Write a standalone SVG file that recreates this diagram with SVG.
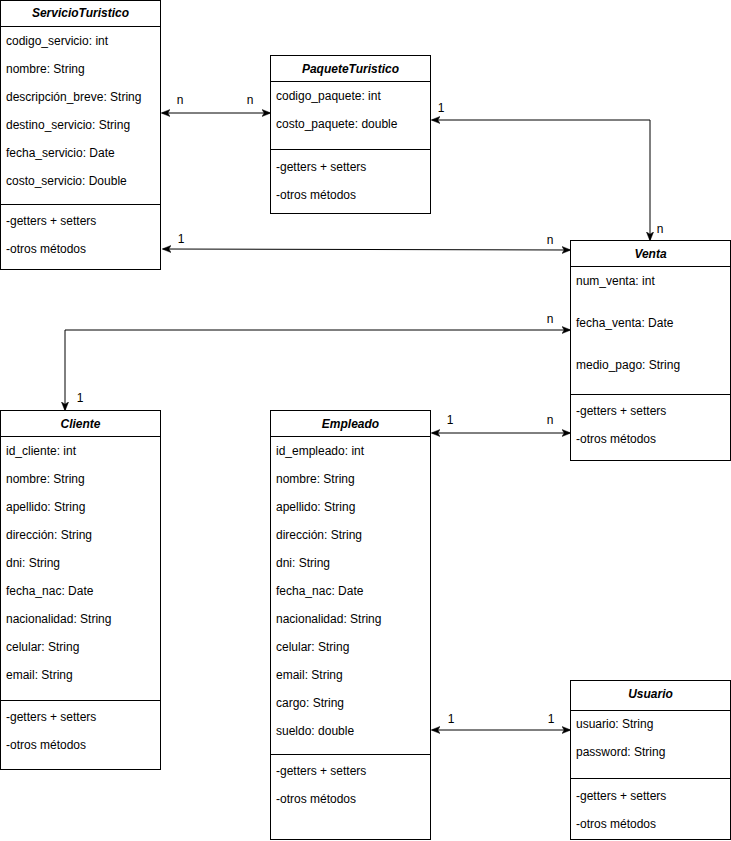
<svg xmlns="http://www.w3.org/2000/svg" width="731" height="841" viewBox="0 0 731 841">
<style>
.box{fill:#fff;stroke:#000;stroke-width:1}
.ln{stroke:#000;stroke-width:1;fill:none}
text{font-family:"Liberation Sans",Arial,Helvetica,sans-serif;font-size:12px;fill:#000;dominant-baseline:central}
.h{font-style:italic;font-weight:bold;text-anchor:middle}
.lbl{text-anchor:middle}
.c{stroke:#000;stroke-width:1;fill:none;marker-start:url(#arr);marker-end:url(#arr)}
</style>
<defs>
<marker id="arr" viewBox="0 0 10 10" refX="9" refY="5" markerWidth="9" markerHeight="9" orient="auto-start-reverse" markerUnits="userSpaceOnUse">
<path d="M0,1 L10,5 L0,9 L2.5,5 z" fill="#000" stroke="#000" stroke-width="0.5"/>
</marker>
</defs>
<rect x="0" y="0" width="731" height="841" fill="#fff"/>

<g id="connectors">
<path class="c" d="M162,113 H270"/>
<path class="c" d="M650,240 V120 H432"/>
<path class="c" d="M163,249 L570,250"/>
<path class="c" d="M570,330 H65 V410"/>
<path class="c" d="M432,433 H570"/>
<path class="c" d="M432,730 H570"/>
<text class="lbl" x="180" y="100">n</text>
<text class="lbl" x="250" y="100">n</text>
<text class="lbl" x="441" y="108">1</text>
<text class="lbl" x="660" y="229">n</text>
<text class="lbl" x="181" y="239">1</text>
<text class="lbl" x="550" y="240">n</text>
<text class="lbl" x="550" y="319">n</text>
<text class="lbl" x="80" y="398">1</text>
<text class="lbl" x="450" y="420">1</text>
<text class="lbl" x="550" y="420">n</text>
<text class="lbl" x="451" y="719">1</text>
<text class="lbl" x="551" y="719">1</text>
</g>

<g id="ServicioTuristico">
<rect class="box" x="0.5" y="0.5" width="160" height="269"/>
<line class="ln" x1="0.5" y1="26.5" x2="160.5" y2="26.5"/>
<line class="ln" x1="0.5" y1="204.5" x2="160.5" y2="204.5"/>
<text class="h" x="80.5" y="13">ServicioTuristico</text>
<text x="6" y="41">codigo_servicio: int</text>
<text x="6" y="69">nombre: String</text>
<text x="6" y="97">descripción_breve: String</text>
<text x="6" y="125">destino_servicio: String</text>
<text x="6" y="153">fecha_servicio: Date</text>
<text x="6" y="181">costo_servicio: Double</text>
<text x="6" y="221">-getters + setters</text>
<text x="6" y="249">-otros métodos</text>
</g>

<g id="PaqueteTuristico">
<rect class="box" x="270.5" y="55.5" width="160" height="158"/>
<line class="ln" x1="270.5" y1="81.5" x2="430.5" y2="81.5"/>
<line class="ln" x1="270.5" y1="149.5" x2="430.5" y2="149.5"/>
<text class="h" x="350.5" y="68.5">PaqueteTuristico</text>
<text x="276" y="96">codigo_paquete: int</text>
<text x="276" y="124">costo_paquete: double</text>
<text x="276" y="167">-getters + setters</text>
<text x="276" y="195">-otros métodos</text>
</g>

<g id="Venta">
<rect class="box" x="570.5" y="240.5" width="160" height="220"/>
<line class="ln" x1="570.5" y1="266.5" x2="730.5" y2="266.5"/>
<line class="ln" x1="570.5" y1="394.5" x2="730.5" y2="394.5"/>
<text class="h" x="650.5" y="253.5">Venta</text>
<text x="576" y="281">num_venta: int</text>
<text x="576" y="323">fecha_venta: Date</text>
<text x="576" y="365">medio_pago: String</text>
<text x="576" y="411">-getters + setters</text>
<text x="576" y="439">-otros métodos</text>
</g>

<g id="Cliente">
<rect class="box" x="0.5" y="410.5" width="160" height="359"/>
<line class="ln" x1="0.5" y1="436.5" x2="160.5" y2="436.5"/>
<line class="ln" x1="0.5" y1="700.5" x2="160.5" y2="700.5"/>
<text class="h" x="80.5" y="423.5">Cliente</text>
<text x="6" y="451">id_cliente: int</text>
<text x="6" y="479">nombre: String</text>
<text x="6" y="507">apellido: String</text>
<text x="6" y="535">dirección: String</text>
<text x="6" y="563">dni: String</text>
<text x="6" y="591">fecha_nac: Date</text>
<text x="6" y="619">nacionalidad: String</text>
<text x="6" y="647">celular: String</text>
<text x="6" y="675">email: String</text>
<text x="6" y="717">-getters + setters</text>
<text x="6" y="745">-otros métodos</text>
</g>

<g id="Empleado">
<rect class="box" x="270.5" y="410.5" width="160" height="429"/>
<line class="ln" x1="270.5" y1="436.5" x2="430.5" y2="436.5"/>
<line class="ln" x1="270.5" y1="754.5" x2="430.5" y2="754.5"/>
<text class="h" x="350.5" y="423.5">Empleado</text>
<text x="276" y="451">id_empleado: int</text>
<text x="276" y="479">nombre: String</text>
<text x="276" y="507">apellido: String</text>
<text x="276" y="535">dirección: String</text>
<text x="276" y="563">dni: String</text>
<text x="276" y="591">fecha_nac: Date</text>
<text x="276" y="619">nacionalidad: String</text>
<text x="276" y="647">celular: String</text>
<text x="276" y="675">email: String</text>
<text x="276" y="703">cargo: String</text>
<text x="276" y="731">sueldo: double</text>
<text x="276" y="771">-getters + setters</text>
<text x="276" y="799">-otros métodos</text>
</g>

<g id="Usuario">
<rect class="box" x="570.5" y="680.5" width="160" height="159"/>
<line class="ln" x1="570.5" y1="710.5" x2="730.5" y2="710.5"/>
<line class="ln" x1="570.5" y1="778.5" x2="730.5" y2="778.5"/>
<text class="h" x="650.5" y="693.5">Usuario</text>
<text x="576" y="724">usuario: String</text>
<text x="576" y="752">password: String</text>
<text x="576" y="796">-getters + setters</text>
<text x="576" y="824">-otros métodos</text>
</g>
</svg>
